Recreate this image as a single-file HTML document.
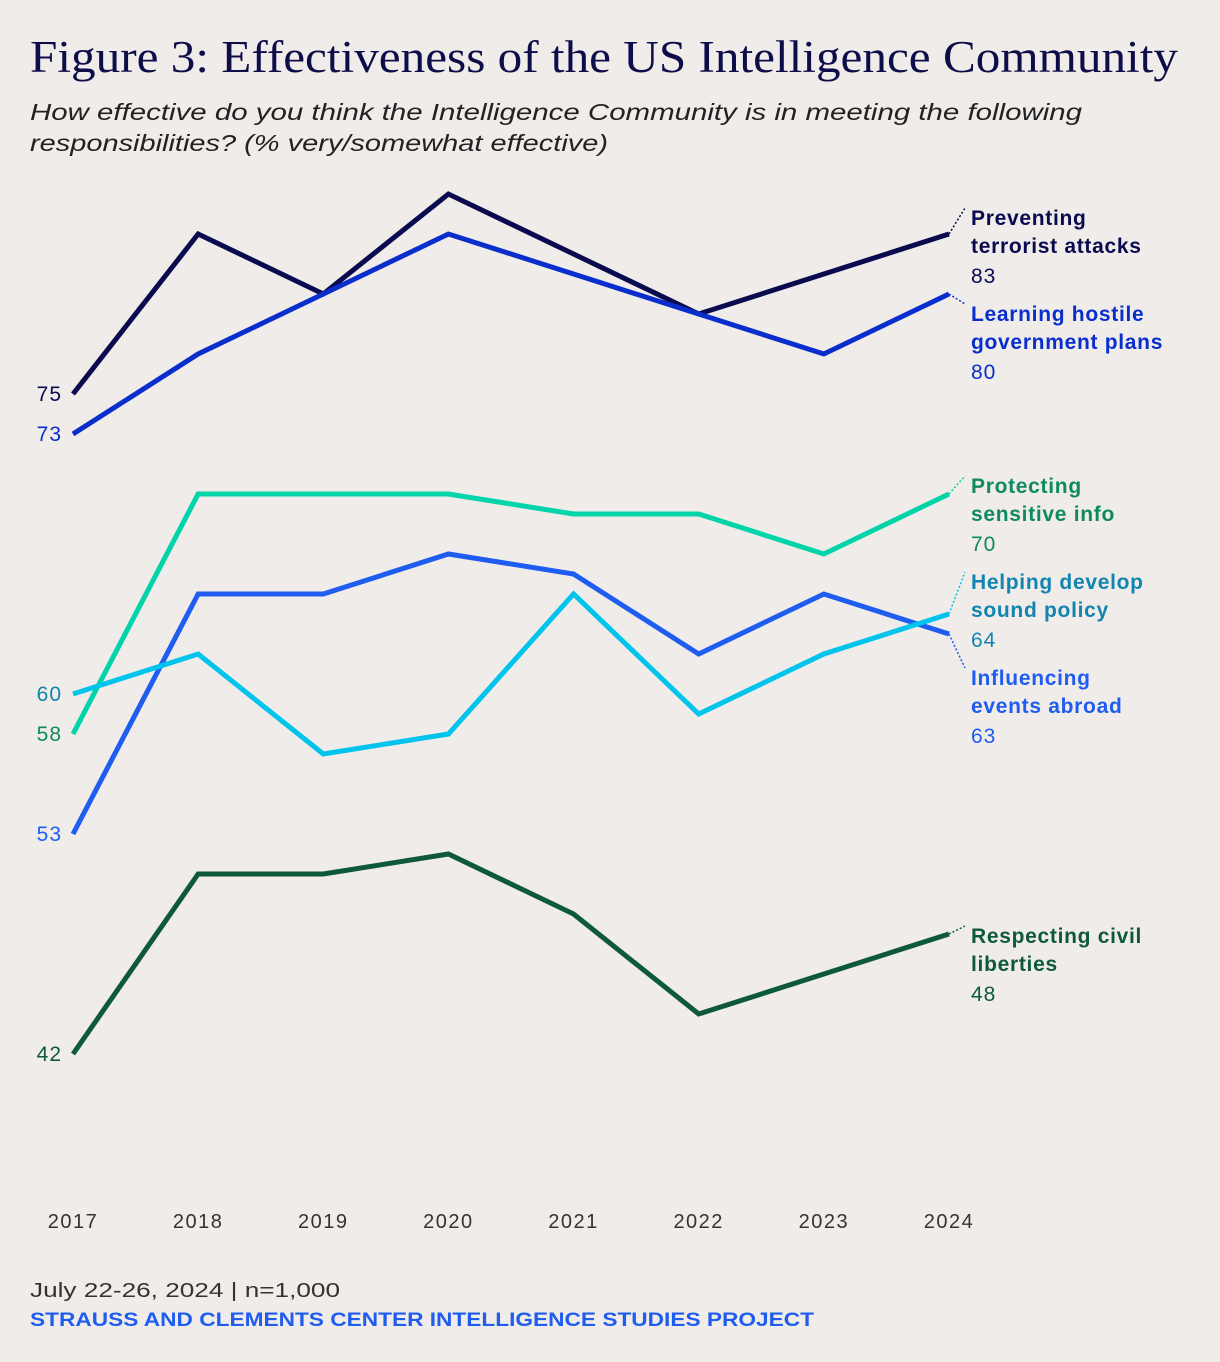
<!DOCTYPE html>
<html><head><meta charset="utf-8"><style>
body{margin:0;background:#f0ecea;}
svg{display:block;font-family:"Liberation Sans",sans-serif;}
</style></head><body>
<svg width="1220" height="1362" viewBox="0 0 1220 1362">
<rect width="1220" height="1362" fill="#f0ecea"/>
<text x="30" y="72" font-family="Liberation Serif,serif" font-size="45" fill="#0d0d4a" textLength="1148" lengthAdjust="spacingAndGlyphs">Figure 3: Effectiveness of the US Intelligence Community</text>
<text x="30" y="120" font-size="23" font-style="italic" fill="#222" textLength="1052" lengthAdjust="spacingAndGlyphs">How effective do you think the Intelligence Community is in meeting the following</text>
<text x="30" y="151" font-size="23" font-style="italic" fill="#222" textLength="578" lengthAdjust="spacingAndGlyphs">responsibilities? (% very/somewhat effective)</text>
<g id="plot"></g>
<text x="30" y="1297" font-size="20" fill="#333" textLength="310" lengthAdjust="spacingAndGlyphs">July 22-26, 2024 | n=1,000</text>
<text x="30" y="1326" font-size="19" font-weight="bold" fill="#1f5cf0" textLength="784" lengthAdjust="spacingAndGlyphs">STRAUSS AND CLEMENTS CENTER INTELLIGENCE STUDIES PROJECT</text>
</svg>
<script>
const years=[2017,2018,2019,2020,2021,2022,2023,2024];
const preventing=[75,83,80,85,82,79,81,83];
const learning=[73,77,80,83,81,79,77,80];
const protecting=[58,70,70,70,69,69,67,70];
const helping=[60,62,57,58,65,59,62,64];
const influencing=[53,65,65,67,66,62,65,63];
const respecting=[42,51,51,52,49,44,46,48];
const ns="http://www.w3.org/2000/svg";
const g=document.getElementById('plot');
const x=i=>73+i*125.14;
const y=v=>1894-20*v;
function mk(t,a){const e=document.createElementNS(ns,t);for(const k in a)e.setAttribute(k,a[k]);g.appendChild(e);return e;}
years.forEach((yr,i)=>{const t=mk('text',{x:x(i),y:1228,'font-size':20,fill:'#333','text-anchor':'middle','letter-spacing':1.5});t.textContent=yr;

});
const series=[
 {d:preventing,c:'#0a0a4f',tc:'#0a0a4f',name:'preventing',lab:['Preventing','terrorist attacks'],ly:218},
 {d:learning,c:'#0a2ecc',tc:'#0a2ecc',name:'learning',lab:['Learning hostile','government plans'],ly:314},
 {d:protecting,c:'#00d4a8',tc:'#0f8a60',name:'protecting',lab:['Protecting','sensitive info'],ly:486},
 {d:influencing,c:'#1f5cf0',tc:'#1f5cf0',name:'influencing',lab:['Influencing','events abroad'],ly:678},
 {d:helping,c:'#00c4ec',tc:'#1284b0',name:'helping',lab:['Helping develop','sound policy'],ly:582},
 {d:respecting,c:'#0e5a38',tc:'#0e5a38',name:'respecting',lab:['Respecting civil','liberties'],ly:936}
];
series.forEach(s=>{
 const p=mk('polyline',{points:s.d.map((v,i)=>x(i)+','+y(v)).join(' '),fill:'none',stroke:s.c,'stroke-width':5,'stroke-linejoin':'miter'});
 
 
 const n=s.d.length-1;
 const st=mk('text',{x:62,y:y(s.d[0])+7,'font-size':21,fill:s.tc,'text-anchor':'end','letter-spacing':1});st.textContent=s.d[0];
 
 
 const ln=mk('line',{x1:x(n),y1:y(s.d[n]),x2:965,y2:s.ly-10,stroke:s.c,'stroke-width':1.5,'stroke-dasharray':'2,2'});
 
 
 s.lab.forEach((l,k)=>{const t=mk('text',{x:971,y:s.ly+7+k*28,'font-size':21,'font-weight':'bold',fill:s.tc,'letter-spacing':0.7});t.textContent=l;
 
 });
 const ev=mk('text',{x:971,y:s.ly+65,'font-size':21,fill:s.tc,'letter-spacing':1});ev.textContent=s.d[n];
 
 
});
</script>
</body></html>
